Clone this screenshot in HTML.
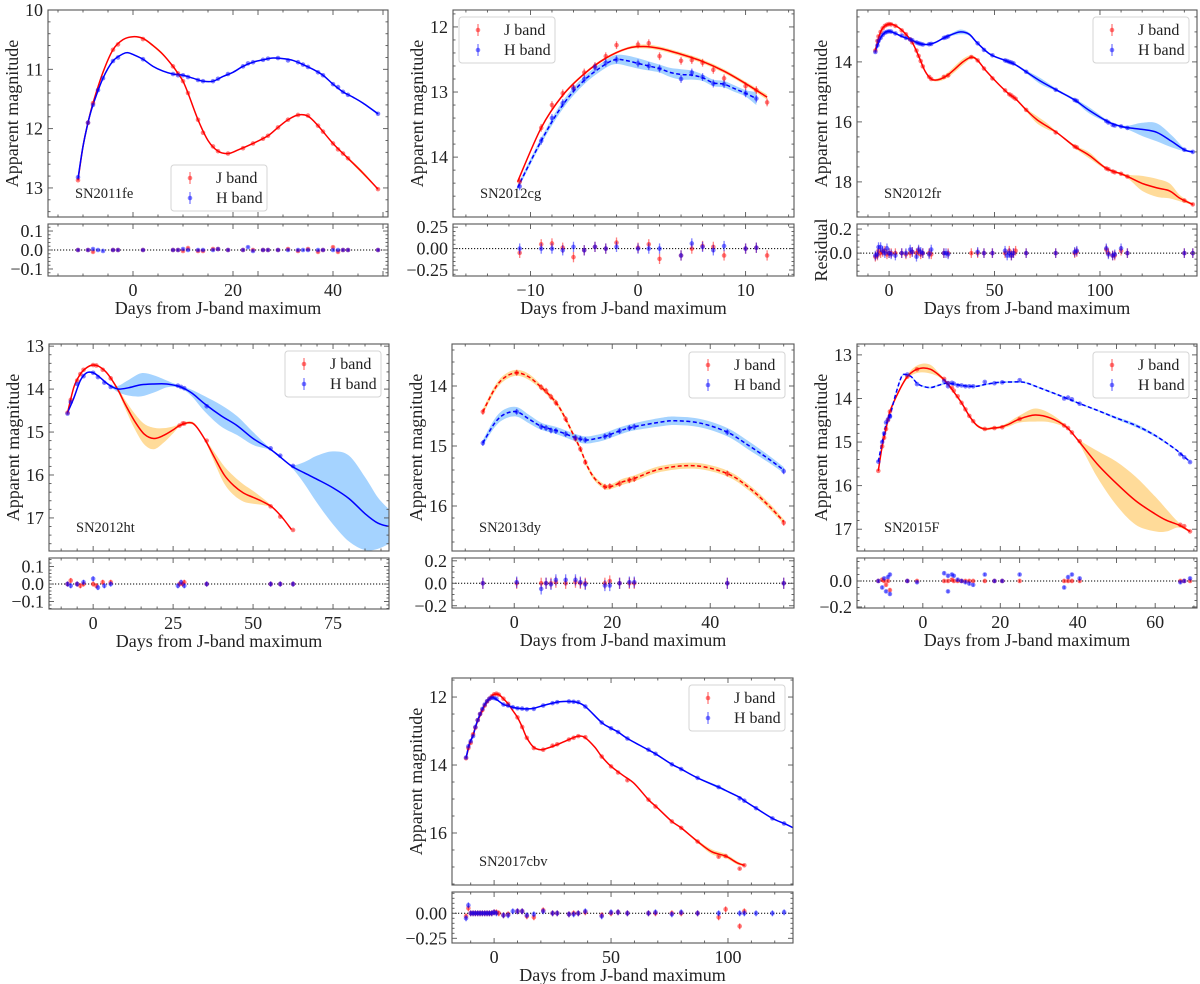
<!DOCTYPE html>
<html><head><meta charset="utf-8"><title>SN light curves</title>
<style>
body{margin:0;background:#fff;}
svg{display:block;font-family:"Liberation Serif",serif;}
</style></head>
<body>
<svg id="fig" width="1200" height="984" viewBox="0 0 1200 984" xmlns="http://www.w3.org/2000/svg"></svg>
<script>
// ---------- DATA (fits: [day, mag, sigma]; obs: [day, mag, residual]) ----------
const p1JFit=[[-11,12.87,.01],[-10,12.3,.01],[-9,11.9,.01],[-8,11.57,.01],[-6,11.05,.01],[-4,10.67,.01],[-2,10.5,.01],[0,10.45,.01],[2,10.48,.015],[4,10.6,.02],[6,10.75,.02],[8,10.95,.01],[9,11.07,.01],[10,11.2,.01],[11,11.4,.01],[13,11.85,.01],[15,12.2,.01],[17,12.38,.01],[19,12.42,.01],[21,12.36,.01],[24,12.25,.01],[27,12.12,.01],[29,11.98,.01],[31,11.85,.01],[33,11.77,.01],[35,11.79,.01],[37,11.95,.01],[40,12.25,.01],[43,12.5,.02],[46,12.75,.03],[49,13.02,.01]];
const p1HFit=[[-11,12.84,.01],[-10,12.3,.01],[-9,11.9,.01],[-8,11.6,.01],[-6,11.15,.01],[-4,10.86,.01],[-2,10.74,.01],[-1,10.72,.01],[0,10.75,.01],[2,10.83,.01],[4,10.95,.01],[6,11.03,.01],[8,11.08,.01],[10,11.1,.01],[12,11.15,.01],[14,11.2,.01],[16,11.2,.01],[18,11.12,.01],[20,11.05,.01],[22,10.95,.01],[24,10.88,.01],[26,10.84,.01],[28,10.81,.01],[30,10.82,.01],[32,10.85,.01],[34,10.92,.01],[36,11.0,.01],[38,11.1,.01],[40,11.25,.01],[42,11.38,.01],[44,11.47,.01],[46,11.57,.015],[49,11.75,.02]];
const p1JObs=[[-11,12.87,0],[-9,11.9,0],[-8,11.57,-.01],[-4,10.67,0],[-3,10.58,0],[2,10.49,0],[8,10.95,0],[9,11.07,0],[10,11.2,-.005],[11,11.4,.01],[13,11.85,-.005],[14,12.07,-.005],[16,12.3,.005],[17,12.38,.005],[19,12.42,0],[22,12.33,0],[24,12.25,0],[26,12.17,0],[27,12.12,0],[29,11.98,0],[31,11.85,.005],[33,11.77,-.005],[35,11.78,.005],[37,11.95,-.01],[38,12.05,0],[40,12.25,.015],[41,12.35,-.01],[42,12.42,0],[43,12.5,0],[49,13.02,0]];
const p1HObs=[[-11,12.82,0],[-9,11.9,0],[-8,11.6,.005],[-7,11.35,0],[-6,11.15,-.005],[-4,10.86,0],[-3,10.8,0],[2,10.83,0],[8,11.08,0],[9,11.1,0],[10,11.1,.005],[11,11.13,0],[13,11.18,0],[14,11.2,0],[16,11.2,0],[17,11.16,.005],[19,11.08,0],[22,10.95,0],[23,10.9,.015],[24,10.88,-.005],[26,10.84,0],[27,10.82,0],[29,10.81,0],[31,10.85,0],[33,10.88,0],[34,10.92,0],[35,10.96,0],[37,11.05,0],[38,11.1,0],[40,11.25,0],[41,11.3,0],[42,11.38,0],[43,11.43,0],[49,11.75,0]];

const p2JFit=[[-11.2,14.38,.02],[-9,13.55,.02],[-7,13.05,.02],[-5,12.72,.02],[-3,12.48,.02],[-1,12.33,.02],[0.5,12.3,.03],[2,12.33,.03],[4,12.42,.03],[6,12.53,.03],[8,12.68,.03],[10,12.87,.03],[12,13.08,.04]];
const p2HFit=[[-11.2,14.47,.04],[-9,13.75,.05],[-7,13.2,.06],[-5,12.82,.06],[-3,12.57,.06],[-2,12.5,.07],[-1,12.52,.08],[0,12.56,.08],[1,12.6,.07],[2,12.64,.06],[3,12.7,.07],[4,12.73,.08],[5,12.74,.07],[6,12.78,.05],[7,12.86,.05],[8,12.88,.05],[9,12.95,.05],[10,13.02,.05],[11,13.1,.1]];
const p2JObs=[[-11,14.38,-.05],[-9,13.55,.05],[-8,13.2,.06],[-7,13.02,.01],[-6,12.93,-.1],[-5,12.7,-.02],[-4,12.6,.02],[-3,12.45,0],[-2,12.28,.07],[0,12.27,.01],[1,12.25,.05],[2,12.45,-.12],[4,12.52,-.08],[5,12.51,0],[6,12.55,.03],[7,12.66,.02],[8,12.79,-.08],[10,12.91,0],[11,12.97,.01],[12,13.16,-.08]];
const p2HObs=[[-11,14.45,0],[-9,13.75,0],[-8,13.4,0],[-7,13.17,-.02],[-6,12.95,.02],[-5,12.8,-.02],[-4,12.62,.02],[-3,12.55,0],[-2,12.5,.02],[0,12.56,0],[1,12.6,0],[2,12.64,0],[4,12.8,-.08],[5,12.7,.06],[6,12.77,.02],[7,12.87,-.02],[8,12.88,.03],[10,13.02,0],[11,13.1,.01]];

const p3JFit=[[-6.5,13.6,.03],[-4,13.0,.03],[-2,12.8,.03],[0,12.74,.03],[2,12.76,.03],[5,12.88,.03],[8,13.08,.03],[11,13.35,.03],[14,13.8,.03],[17,14.3,.03],[20,14.57,.03],[23,14.6,.05],[27,14.48,.08],[31,14.25,.1],[35,14.0,.1],[39,13.84,.06],[42,13.95,.04],[46,14.3,.03],[52,14.75,.03],[57,15.08,.03],[60,15.23,.03],[65,15.6,.05],[70,15.92,.12],[75,16.15,.1],[80,16.38,.03],[88,16.82,.05],[95,17.12,.1],[103,17.55,.04],[110,17.73,.04],[114,17.85,.08],[120,18.05,.25],[127,18.2,.3],[133,18.3,.25],[138,18.55,.1],[144,18.75,.03]];
const p3HFit=[[-6.5,13.65,.03],[-4,13.2,.03],[-2,13.02,.03],[0,12.98,.03],[3,13.05,.03],[6,13.15,.03],[10,13.25,.03],[14,13.38,.03],[18,13.42,.03],[22,13.35,.03],[26,13.2,.03],[30,13.08,.05],[34,13.0,.08],[38,13.08,.05],[42,13.38,.03],[48,13.75,.03],[55,13.95,.03],[60,14.1,.03],[65,14.33,.05],[72,14.65,.1],[80,14.96,.04],[88,15.27,.05],[95,15.62,.1],[104,16.0,.04],[110,16.15,.04],[114,16.2,.08],[120,16.25,.22],[127,16.35,.3],[134,16.65,.2],[140,16.93,.05],[144,17.0,.03]];
const p3JObs=[[-6.5,13.62,-.03],[-5.5,13.3,-.02],[-5,13.15,.02],[-4,13.0,0],[-3,12.88,.01],[-2,12.8,.02],[-1,12.76,-.01],[0,12.74,0],[1,12.75,0],[3,12.8,0],[6,12.95,0],[8,13.08,-.01],[10,13.25,0],[11,13.35,.01],[13,13.62,0],[14,13.8,.02],[15,13.97,-.01],[16,14.15,0],[19,14.5,0],[20,14.57,-.01],[26,14.5,0],[28,14.45,0],[39,13.84,0],[42,13.95,0],[45,14.22,0],[49,14.55,0],[55,14.95,0],[57,15.08,.02],[58,15.12,-.02],[59,15.18,0],[60,15.23,.02],[65,15.6,0],[79,16.35,0],[88,16.82,0],[89,16.85,.01],[103,17.55,.03],[104,17.58,0],[106,17.65,-.02],[107,17.68,-.02],[110,17.73,.02],[113,17.82,0],[140,18.62,0],[144,18.75,0]];
const p3HObs=[[-6.5,13.67,-.02],[-5.5,13.45,-.01],[-5,13.3,.05],[-4,13.2,.05],[-3,13.1,.02],[-2,13.03,0],[-1,13.0,.04],[0,12.98,0],[1,12.99,-.01],[3,13.05,-.02],[6,13.12,0],[8,13.2,0],[10,13.25,.03],[11,13.28,.01],[13,13.35,-.03],[14,13.38,.03],[15,13.4,.01],[16,13.42,0],[19,13.41,-.01],[20,13.4,.03],[26,13.2,0],[27,13.18,0],[28,13.15,-.01],[42,13.38,.01],[45,13.6,0],[49,13.78,0],[55,13.95,.02],[56,13.97,-.02],[57,14.0,0],[58,14.02,-.02],[59,14.05,0],[65,14.33,0],[79,14.93,0],[88,15.27,.01],[89,15.3,.02],[103,15.97,.04],[104,16.02,-.01],[106,16.1,-.02],[107,16.12,-.01],[110,16.15,.04],[113,16.2,0],[140,16.93,0],[144,17.0,0]];

const p4JFit=[[-8,14.55,.02],[-6,13.95,.02],[-4,13.65,.02],[-2,13.5,.02],[0,13.44,.02],[2,13.48,.02],[4,13.6,.02],[6,13.8,.03],[8,14.05,.05],[10,14.35,.1],[13,14.75,.18],[16,15.05,.24],[19,15.15,.25],[22,15.08,.17],[25,14.95,.08],[27,14.85,.03],[30,14.78,.03],[32,14.85,.03],[35,15.18,.03],[38,15.6,.12],[41,16.0,.2],[44,16.25,.22],[47,16.42,.2],[50,16.52,.15],[53,16.62,.08],[56,16.75,.02],[59,16.98,.02],[62,17.27,.02]];
const p4HFit=[[-8,14.55,.02],[-6,14.2,.02],[-4,13.8,.02],[-2,13.62,.02],[0,13.62,.02],[2,13.72,.02],[4,13.85,.02],[6,13.95,.03],[8,14.0,.08],[11,13.97,.18],[15,13.9,.27],[19,13.88,.2],[23,13.88,.08],[26,13.92,.03],[28,13.97,.03],[31,14.1,.08],[35,14.35,.18],[40,14.62,.25],[45,14.85,.22],[50,15.15,.15],[55,15.38,.03],[58,15.55,.03],[62,15.79,.03],[66,15.95,.25],[70,16.1,.55],[75,16.3,.85],[80,16.55,1.0],[85,16.9,.85],[89,17.12,.6],[92.5,17.2,.4]];
const p4JObs=[[-8,14.55,0],[-7,14.25,.02],[-5,13.8,0],[-4,13.65,-.01],[-3,13.55,0],[0,13.44,0],[1,13.45,-.01],[3,13.55,.01],[5.5,13.75,.01],[27,14.85,0],[28,14.8,0],[28.5,14.8,.01],[35.5,15.2,0],[55.5,16.73,0],[58.5,16.97,0],[62.5,17.28,0]];
const p4HObs=[[-8,14.57,0],[-7,14.3,-.01],[-5,13.88,0],[-3,13.7,.01],[0,13.62,.03],[1.5,13.72,-.02],[3.5,13.85,-.01],[5.5,13.95,0],[26.5,13.92,-.01],[27.5,13.95,.01],[28.5,13.98,-.01],[35.5,14.4,0],[55.5,15.38,0],[58.5,15.55,0],[62.5,15.79,0]];

const p5JFit=[[-6.4,14.43,.05],[-4,14.05,.05],[-2,13.86,.05],[0.5,13.78,.05],[3,13.85,.05],[5.5,14.02,.04],[7.5,14.18,.04],[9,14.33,.04],[10.5,14.55,.04],[12,14.8,.04],[13.5,15.05,.04],[15,15.35,.04],[16.5,15.55,.04],[18.5,15.68,.04],[20,15.67,.04],[22,15.6,.05],[24.5,15.54,.05],[30,15.38,.05],[37,15.33,.05],[43.5,15.46,.05],[48,15.7,.05],[52,16.0,.05],[55,16.26,.04]];
const p5HFit=[[-6.4,14.95,.05],[-4,14.62,.07],[-2,14.47,.08],[0.5,14.43,.08],[3,14.55,.07],[5.5,14.67,.06],[8.5,14.74,.06],[10.5,14.8,.06],[12.5,14.86,.06],[14.5,14.9,.06],[16.5,14.88,.06],[18.5,14.84,.06],[21.5,14.75,.06],[24.5,14.68,.06],[30,14.6,.07],[33,14.58,.07],[38,14.62,.07],[43.5,14.77,.07],[48,15.0,.07],[52,15.22,.06],[55,15.4,.05]];
const p5JObs=[[-6.4,14.43,0],[0.5,13.78,0],[5.5,14.02,0],[6.5,14.08,0],[7.5,14.18,0],[8.5,14.28,.01],[10.5,14.55,0],[12.5,14.88,.01],[13.5,15.05,0],[14.5,15.27,0],[18.5,15.68,0],[19.5,15.67,.02],[21.5,15.63,0],[23.5,15.57,0],[24.5,15.55,0],[43.5,15.46,0],[55,16.28,0]];
const p5HObs=[[-6.4,14.95,0],[0.5,14.43,.01],[5.5,14.68,-.05],[6.5,14.7,0],[7.5,14.74,-.01],[8.5,14.75,.03],[10.5,14.8,.03],[12.5,14.86,.03],[13.5,14.88,.01],[14.5,14.9,-.01],[18.5,14.84,-.02],[19.5,14.82,-.02],[21.5,14.75,0],[23.5,14.7,.01],[24.5,14.68,.01],[43.5,14.77,0],[55,15.42,0]];

const p6JFit=[[-11.5,15.66,.03],[-10.5,15.1,.03],[-9.5,14.7,.03],[-8.5,14.3,.03],[-6,13.8,.03],[-4,13.5,.05],[-2,13.35,.08],[0,13.3,.1],[2,13.33,.1],[4,13.45,.05],[6,13.62,.03],[8,13.85,.03],[10,14.1,.03],[12,14.4,.03],[14,14.62,.03],[16,14.7,.03],[18,14.68,.03],[20,14.66,.03],[22,14.6,.05],[25,14.47,.08],[29,14.38,.15],[33,14.45,.1],[37,14.65,.03],[40,14.95,.03],[45,15.5,.3],[50,15.95,.5],[55,16.35,.55],[60,16.65,.4],[63,16.8,.25],[66,16.9,.06],[69,17.05,.02]];
const p6HFit=[[-11.5,15.45,.02],[-10.5,15.0,.02],[-9.5,14.6,.02],[-8.5,14.4,.02],[-7,13.9,.02],[-5.5,13.5,.02],[-4.5,13.45,.02],[-3,13.5,.02],[-1.5,13.65,.02],[0,13.72,.02],[2,13.75,.02],[4,13.7,.02],[6,13.65,.02],[8,13.67,.02],[10,13.7,.02],[12,13.72,.02],[14,13.72,.02],[16,13.68,.02],[18,13.65,.02],[20,13.63,.02],[25,13.62,.02],[27,13.65,.02],[30,13.75,.02],[35,13.92,.02],[40,14.1,.02],[45,14.27,.02],[50,14.45,.03],[55,14.62,.04],[60,14.85,.03],[65,15.15,.02],[67,15.3,.02],[69,15.45,.02]];
const p6JObs=[[-11.5,15.66,0],[-10.5,15.1,.01],[-10,14.9,0],[-9.5,14.7,-.03],[-9,14.5,0],[-8.5,14.3,-.07],[-4,13.5,0],[-1.5,13.33,0],[5.5,13.55,0],[6.5,13.65,0],[7.5,13.75,.01],[8,13.82,0],[9,13.95,0],[10,14.1,0],[11,14.25,0],[12,14.4,0],[13,14.52,0],[16,14.7,0],[18.5,14.68,0],[20.5,14.66,0],[25,14.47,0],[36.5,14.62,0],[37.5,14.68,0],[38.5,14.78,0],[40.5,14.98,0],[66.5,16.9,0],[67.5,16.93,0],[69,17.05,0]];
const p6HObs=[[-11.5,15.45,0],[-10.5,15.0,-.05],[-10,14.8,.02],[-9.5,14.55,-.08],[-9,14.48,.03],[-8.5,14.42,-.1],[-8.5,14.4,.05],[-4,13.45,0],[-1.5,13.67,-.01],[5.5,13.6,.06],[6.5,13.72,.04],[6.5,13.65,-.08],[7.5,13.64,.05],[8,13.66,.04],[9,13.7,.01],[10,13.7,0],[11,13.72,-.01],[12,13.72,-.02],[13,13.72,-.03],[16,13.62,.05],[18.5,13.65,0],[20.5,13.63,0],[25,13.58,.05],[36.5,14.0,-.05],[37.5,13.98,.03],[38.5,14.02,.05],[40.5,14.12,.02],[66.5,15.28,-.01],[67.5,15.35,0],[69,15.46,.02]];

const p7JFit=[[-12,13.8,.02],[-10.5,13.4,.02],[-9,13.1,.02],[-8,12.9,.02],[-7,12.7,.02],[-6,12.55,.02],[-5,12.4,.02],[-4,12.25,.02],[-3,12.15,.02],[-2,12.05,.02],[-1,11.97,.02],[0,11.92,.02],[2,11.93,.02],[4,12.05,.02],[6,12.2,.02],[8,12.4,.02],[10,12.6,.02],[12,12.88,.02],[14,13.2,.02],[17,13.48,.02],[20,13.55,.02],[23,13.5,.02],[27,13.4,.02],[32,13.25,.02],[36,13.15,.02],[39,13.2,.02],[43,13.47,.02],[46,13.75,.02],[50,14.04,.02],[55,14.3,.02],[60,14.55,.02],[66,15.02,.02],[70,15.27,.02],[76,15.66,.02],[80,15.85,.02],[87,16.25,.04],[93,16.55,.07],[99,16.68,.06],[104,16.88,.05],[107,16.95,.03]];
const p7HFit=[[-12,13.8,.02],[-10.5,13.35,.02],[-9,13.15,.02],[-8,12.88,.02],[-7,12.68,.02],[-6,12.5,.02],[-5,12.35,.02],[-4,12.22,.02],[-3,12.12,.02],[-2,12.05,.02],[-1,12.02,.02],[0,12.03,.02],[2,12.12,.02],[4,12.22,.02],[6,12.26,.02],[8,12.3,.02],[10,12.33,.02],[14,12.35,.02],[17,12.33,.02],[21,12.25,.02],[25,12.18,.02],[28,12.14,.02],[32,12.13,.02],[35,12.15,.02],[39,12.28,.02],[46,12.75,.02],[50,12.92,.02],[53,13.03,.02],[57,13.22,.02],[65,13.52,.02],[69,13.67,.02],[76,13.98,.02],[80,14.12,.02],[87,14.38,.02],[96,14.65,.04],[99,14.75,.03],[105,14.95,.02],[107,15.05,.02],[112,15.27,.02],[119,15.57,.02],[124,15.72,.02],[128,15.85,.02]];
const p7JObs=[[-12,13.8,-.03],[-11,13.5,.05],[-10,13.35,0],[-9,13.1,0],[-8,12.9,0],[-7,12.68,0],[-6,12.5,0],[-5,12.38,0],[-4,12.25,0],[-3,12.13,0],[-2,12.05,0],[-1,11.98,0],[0,11.92,.01],[1,11.9,.01],[2,11.93,0],[4,12.05,-.02],[6,12.2,-.01],[10,12.6,.02],[12,12.88,.02],[14,13.2,-.03],[17,13.5,-.04],[21,13.55,.03],[25,13.43,0],[27,13.39,0],[32,13.25,-.01],[34,13.2,0],[36,13.15,0],[39,13.18,.01],[46,13.75,-.02],[50,14.04,0],[53,14.22,.01],[57,14.45,0],[66,15.02,0],[69,15.22,0],[76,15.66,0],[80,15.85,0],[87,16.25,0],[96,16.7,-.04],[99,16.68,.04],[105,17.05,-.13],[107,16.95,.02]];
const p7HObs=[[-12,13.78,-.05],[-11,13.45,.08],[-10,13.3,0],[-9,13.15,0],[-8,12.88,0],[-7,12.68,0],[-6,12.5,0],[-5,12.35,0],[-4,12.22,0],[-3,12.12,0],[-2,12.05,0],[-1,12.02,0],[0,12.03,.01],[1,12.05,0],[4,12.22,-.02],[6,12.25,-.02],[8,12.3,.02],[10,12.33,.02],[12,12.34,.02],[14,12.36,-.02],[17,12.35,-.01],[21,12.25,.02],[25,12.18,0],[27,12.15,0],[32,12.13,-.01],[34,12.14,-.01],[36,12.15,0],[39,12.28,.02],[46,12.75,-.03],[50,12.92,.01],[53,13.03,.01],[57,13.22,0],[66,13.55,0],[69,13.67,.01],[76,13.98,-.01],[80,14.12,.01],[87,14.38,0],[96,14.65,0],[105,14.98,0],[107,15.05,0],[112,15.27,0],[119,15.57,0],[124,15.72,.01]];

const panelNames=['SN2011fe','SN2012cg','SN2012fr','SN2012ht','SN2013dy','SN2015F','SN2017cbv'];
const xTicks=[[0,20,40],[-10,0,10],[0,50,100],[0,25,50,75],[0,20,40],[0,20,40,60],[0,50,100]];
const yTicks=[[10,11,12,13],[12,13,14],[14,16,18],[13,14,15,16,17],[14,15,16],[13,14,15,16,17],[12,14,16]];
const rTicks=[[-0.1,0,0.1],[-0.25,0,0.25],[0,0.2],[-0.1,0,0.1],[-0.2,0,0.2],[-0.2,0],[-0.25,0]];

// ---------- LAYOUT (pixels / styling only) ----------
const layout=[
 {L:48,R:388,T:10,B:217,RT:224,RB:276,xr:[-17,51],yr:[10,13.49],rr:[0.137,-0.137],xm:5,ym:0.2,rm:0.02,rd:1,err:.006,legX:171,legY:165,hd:false,jd:false},
 {L:453,R:794,T:10,B:217,RT:224,RB:276,xr:[-17.2,14.5],yr:[11.74,14.92],rr:[0.287,-0.32],xm:2,ym:0.2,rm:0.05,rd:2,err:.06,legX:459,legY:17,hd:true,jd:false},
 {L:857,R:1197,T:10,B:217,RT:224,RB:276,xr:[-15.2,146],yr:[12.27,19.17],rr:[0.242,-0.19],xm:10,ym:0.5,rm:0.05,rd:1,err:.04,legX:1093,legY:17,hd:false,jd:false,resLabel:true},
 {L:49,R:389,T:344,B:551,RT:558,RB:609,xr:[-13.8,92.5],yr:[12.95,17.77],rr:[0.149,-0.143],xm:5,ym:0.2,rm:0.02,rd:1,err:.015,legX:285,legY:351,hd:false,jd:false},
 {L:452,R:794,T:344,B:551,RT:558,RB:608,xr:[-12.7,57.1],yr:[13.3,16.75],rr:[0.225,-0.22],xm:5,ym:0.2,rm:0.05,rd:1,err:.05,legX:689,legY:352,hd:true,jd:true},
 {L:857,R:1197,T:344,B:551,RT:558,RB:608,xr:[-17,70.8],yr:[12.75,17.5],rr:[0.177,-0.208],xm:5,ym:0.2,rm:0.05,rd:1,err:.012,legX:1093,legY:352,hd:true,jd:false},
 {L:452,R:793,T:678,B:885,RT:892,RB:943,xr:[-18,127.8],yr:[11.44,17.53],rr:[0.213,-0.297],xm:10,ym:0.5,rm:0.05,rd:2,err:.03,legX:689,legY:685,hd:false,jd:false}
];
const fits=[[p1JFit,p1HFit],[p2JFit,p2HFit],[p3JFit,p3HFit],[p4JFit,p4HFit],[p5JFit,p5HFit],[p6JFit,p6HFit],[p7JFit,p7HFit]];
const obs=[[p1JObs,p1HObs],[p2JObs,p2HObs],[p3JObs,p3HObs],[p4JObs,p4HObs],[p5JObs,p5HObs],[p6JObs,p6HObs],[p7JObs,p7HObs]];

const NS='http://www.w3.org/2000/svg';
const svg=document.getElementById('fig');
function mk(tag,attrs,parent){const e=document.createElementNS(NS,tag);for(const k in attrs)e.setAttribute(k,attrs[k]);(parent||svg).appendChild(e);return e;}
function smooth(pts,move){
  let d=move?('M'+pts[0][0].toFixed(2)+','+pts[0][1].toFixed(2)):('L'+pts[0][0].toFixed(2)+','+pts[0][1].toFixed(2));
  for(let i=0;i<pts.length-1;i++){
    const p0=pts[Math.max(i-1,0)],p1=pts[i],p2=pts[i+1],p3=pts[Math.min(i+2,pts.length-1)];
    const c1=[p1[0]+(p2[0]-p0[0])/6,p1[1]+(p2[1]-p0[1])/6];
    const c2=[p2[0]-(p3[0]-p1[0])/6,p2[1]-(p3[1]-p1[1])/6];
    d+='C'+c1[0].toFixed(2)+','+c1[1].toFixed(2)+' '+c2[0].toFixed(2)+','+c2[1].toFixed(2)+' '+p2[0].toFixed(2)+','+p2[1].toFixed(2);
  }
  return d;
}
function fmt(v,dec){const s=Math.abs(v).toFixed(dec);return (v<0?'\u2212':'')+s;}
const COL={J:'#ff0000',H:'#0000ff',Jband:'#ffa500',Hband:'#1e90ff'};
const FRAME='#555';

layout.forEach((c,pi)=>{
  const g=mk('g',{});
  
  
  const sx=d=>c.L+(d-c.xr[0])/(c.xr[1]-c.xr[0])*(c.R-c.L);
  const sy=m=>c.T+(m-c.yr[0])/(c.yr[1]-c.yr[0])*(c.B-c.T);
  const sr=r=>c.RT+(c.rr[0]-r)/(c.rr[0]-c.rr[1])*(c.RB-c.RT);
  const defs=mk('defs',{},g);
  const cp=mk('clipPath',{id:'cm'+pi},defs);
  mk('rect',{x:c.L,y:c.T,width:c.R-c.L,height:c.B-c.T},cp);
  const cr=mk('clipPath',{id:'cr'+pi},defs);
  mk('rect',{x:c.L,y:c.RT,width:c.R-c.L,height:c.RB-c.RT},cr);
  const main=mk('g',{'clip-path':'url(#cm'+pi+')'},g);
  
  
  ['J','H'].forEach((b,bi)=>{
    const f=fits[pi][bi];
    const up=f.map(p=>[sx(p[0]),sy(p[1]-p[2])]);
    const lo=f.map(p=>[sx(p[0]),sy(p[1]+p[2])]).reverse();
    const band=mk('path',{d:smooth(up,true)+smooth(lo,false)+'Z',fill:COL[b+'band'],'fill-opacity':0.4,stroke:'none'},main);
    
    
  });
  ['J','H'].forEach((b,bi)=>{
    const f=fits[pi][bi];
    const dashed=(b==='H'?c.hd:c.jd);
    const line=mk('path',{d:smooth(f.map(p=>[sx(p[0]),sy(p[1])]),true),fill:'none',stroke:COL[b],'stroke-width':1.5,'stroke-dasharray':dashed?'4,2.5':'none'},main);
    
    
  });
  ['J','H'].forEach((b,bi)=>{
    obs[pi][bi].forEach(o=>{
      const x=sx(o[0]),y=sy(o[1]);
      const eb=mk('line',{x1:x,x2:x,y1:sy(o[1]-c.err),y2:sy(o[1]+c.err),stroke:COL[b],'stroke-opacity':0.5,'stroke-width':1.3},main);
      
      
      const pt=mk('circle',{cx:x,cy:y,r:2.3,fill:COL[b],'fill-opacity':0.5},main);
      
      
    });
  });
  const res=mk('g',{'clip-path':'url(#cr'+pi+')'},g);
  
  
  const zl=mk('line',{x1:c.L,x2:c.R,y1:sr(0),y2:sr(0),stroke:'#000','stroke-width':1,'stroke-dasharray':'1.2,1.8'},res);
  
  
  ['J','H'].forEach((b,bi)=>{
    obs[pi][bi].forEach(o=>{
      const x=sx(o[0]),y=sr(o[2]);
      const eb=mk('line',{x1:x,x2:x,y1:sr(o[2]+c.err),y2:sr(o[2]-c.err),stroke:COL[b],'stroke-opacity':0.5,'stroke-width':1.3},res);
      
      
      const pt=mk('circle',{cx:x,cy:y,r:2.3,fill:COL[b],'fill-opacity':0.5},res);
      
      
    });
  });
  [[c.T,c.B,'main-frame'],[c.RT,c.RB,'residual-frame']].forEach(fr=>{
    const r=mk('rect',{x:c.L,y:fr[0],width:c.R-c.L,height:fr[1]-fr[0],fill:'none',stroke:FRAME,'stroke-width':1.1},g);
    
    
  });
  const tk=mk('g',{stroke:FRAME,'stroke-width':0.9},g);
  
  
  function xTicksFor(top,bot){
    const start=Math.ceil(c.xr[0]/c.xm)*c.xm;
    for(let v=start;v<=c.xr[1]+1e-9;v+=c.xm){
      const x=sx(v);const isMaj=xTicks[pi].some(t=>Math.abs(t-v)<1e-6)||Math.abs(v%(c.xm*5))<1e-6;
      const len=isMaj?5:2.5;
      mk('line',{x1:x,x2:x,y1:bot,y2:bot-len},tk);
      mk('line',{x1:x,x2:x,y1:top,y2:top+len},tk);
    }
  }
  xTicksFor(c.T,c.B);xTicksFor(c.RT,c.RB);
  const ys=Math.ceil(c.yr[0]/c.ym-1e-9)*c.ym;
  for(let v=ys;v<=c.yr[1]+1e-9;v+=c.ym){
    const y=sy(v);const isMaj=yTicks[pi].some(t=>Math.abs(t-v)<1e-6);const len=isMaj?5:2.5;
    mk('line',{x1:c.L,x2:c.L+len,y1:y,y2:y},tk);mk('line',{x1:c.R,x2:c.R-len,y1:y,y2:y},tk);
  }
  const rs=Math.ceil(c.rr[1]/c.rm-1e-9)*c.rm;
  for(let v=rs;v<=c.rr[0]+1e-9;v+=c.rm){
    const y=sr(v);const isMaj=rTicks[pi].some(t=>Math.abs(t-v)<1e-6);const len=isMaj?5:2.5;
    mk('line',{x1:c.L,x2:c.L+len,y1:y,y2:y},tk);mk('line',{x1:c.R,x2:c.R-len,y1:y,y2:y},tk);
  }
  xTicks[pi].forEach(v=>{
    const t=mk('text',{x:sx(v),y:c.RB+20,'font-size':18,'text-anchor':'middle',fill:'#222'},g);
    t.textContent=fmt(v,0);
    
    
  });
  yTicks[pi].forEach(v=>{
    const t=mk('text',{x:c.L-5,y:sy(v)+6,'font-size':18,'text-anchor':'end',fill:'#222'},g);
    t.textContent=String(v);
    
    
  });
  rTicks[pi].forEach(v=>{
    const t=mk('text',{x:c.L-5,y:sr(v)+6,'font-size':18,'text-anchor':'end',fill:'#222'},g);
    t.textContent=fmt(v,c.rd);
    
    
  });
  const xl=mk('text',{x:(c.L+c.R)/2,y:c.RB+38,'font-size':18,'text-anchor':'middle',fill:'#222'},g);
  xl.textContent='Days from J-band maximum';
  
  
  const ylx=c.L-30,yly=(c.T+c.B)/2;
  const yl=mk('text',{x:ylx,y:yly,'font-size':18,'text-anchor':'middle',fill:'#222',transform:'rotate(-90 '+ylx+' '+yly+')'},g);
  yl.textContent='Apparent magnitude';
  
  
  if(c.resLabel){
    const ry=(c.RT+c.RB)/2;
    const rl=mk('text',{x:ylx,y:ry,'font-size':18,'text-anchor':'middle',fill:'#222',transform:'rotate(-90 '+ylx+' '+ry+')'},g);
    rl.textContent='Residual';
    
    
  }
  const sn=mk('text',{x:c.L+27,y:c.B-19,'font-size':14.5,fill:'#222'},g);
  sn.textContent=panelNames[pi];
  
  
  const lg=mk('g',{},g);
  
  
  const lb=mk('rect',{x:c.legX,y:c.legY,width:96,height:46,rx:3,fill:'#fff','fill-opacity':0.85,stroke:'#d4d4d4','stroke-width':1},lg);
  
  
  [['J','J band'],['H','H band']].forEach((e,i)=>{
    const yy=c.legY+13+i*20;
    const ent=mk('g',{},lg);
    
    
    mk('line',{x1:c.legX+19,x2:c.legX+19,y1:yy-6,y2:yy+6,stroke:COL[e[0]],'stroke-opacity':0.5,'stroke-width':1.3},ent);
    mk('circle',{cx:c.legX+19,cy:yy,r:2.3,fill:COL[e[0]],'fill-opacity':0.5},ent);
    const t=mk('text',{x:c.legX+45,y:yy+5,'font-size':16,fill:'#222'},ent);
    t.textContent=e[1];
  });
});
</script>
</body></html>
